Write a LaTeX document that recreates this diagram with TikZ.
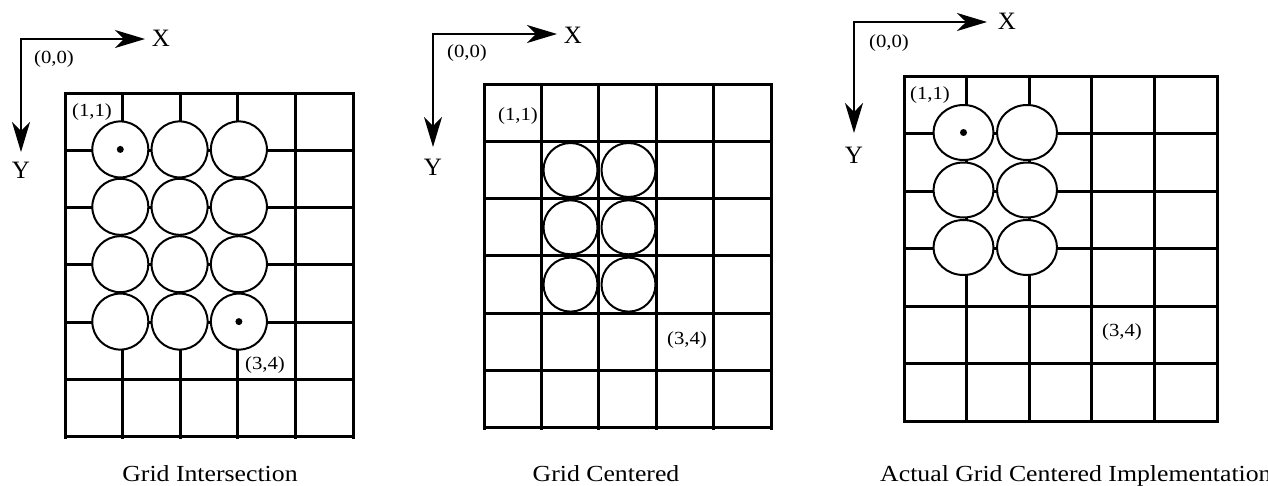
\documentclass[tikz,border=0pt]{standalone}
\usepackage{fontspec}
\setmainfont{Liberation Serif}
\usetikzlibrary{arrows.meta,shapes.geometric}
\tikzset{gridline/.style={line width=3pt,line cap=rect},
         disc/.style={circle,draw,fill=white,line width=2pt,minimum size=56pt,inner sep=0pt},
         oval/.style={ellipse,draw,fill=white,line width=2pt,minimum width=60pt,minimum height=55pt,inner sep=0pt},
         centerdot/.style={circle,fill,inner sep=0pt,minimum size=7pt},
         cornerdot/.style={circle,fill,inner sep=0pt,minimum size=4pt},
         axes/.style={line width=1.6pt,>={Stealth[length=30pt,width=18pt,inset=9pt]},<->},
         axlabel/.style={font=\fontsize{25}{28}\selectfont,inner sep=0pt},
         coordlabel/.style={font=\fontsize{18.5}{21}\selectfont,inner sep=0pt,xscale=1.12,transform shape},
         caption/.style={font=\fontsize{23}{26}\selectfont,inner sep=0pt,xscale=1.12,transform shape}}
\begin{document}
\begin{tikzpicture}[x=1pt,y=-1pt]
\useasboundingbox (0,0) rectangle (1268,485);
% Grid Intersection
\foreach \i in {0,...,5} \draw[gridline] ({65+57.6*\i},93) -- ({65+57.6*\i},437);
\foreach \j in {0,...,6} \draw[gridline] (65,{93+57.3*\j}) -- (353,{93+57.3*\j});
\foreach \i in {1,2,3}
  \foreach \j in {1,...,4}
    \node[disc] (ca\i\j) at ({61+59.3*\i},{92+57.4*\j}) {};
\node[centerdot] (ma) at (ca11) {};
\node[centerdot] (mb) at (ca34) {};
\coordinate (oa) at (21,39);
\coordinate (xa) at (145,39);
\coordinate (ya) at (21,152);
\draw[axes] (xa) -- (oa) -- (ya);
\node[axlabel] (xla) at (161,38.5) {X};
\node[axlabel] (yla) at (21,170.5) {Y};
\node[coordlabel] (za) at (54,59) {(0,0)};
\node[coordlabel] (pa) at (92,112) {(1,1)};
\node[coordlabel] (qa) at (265,365) {(3,4)};
\node[caption,anchor=base] (capa) at (210,481) {Grid Intersection};
% Grid Centered
\foreach \i in {0,...,5} \draw[gridline] ({484+57.4*\i},84) -- ({484+57.4*\i},428);
\foreach \j in {0,...,6} \draw[gridline] (484,{84+57.3*\j}) -- (771,{84+57.3*\j});
\foreach \i in {0,1}
  \foreach \j in {0,1,2}
    \node[disc,fill=none,minimum size=54pt] (cb\i\j) at ({570.5+58*\i},{170+57.3*\j}) {};
\node[cornerdot] (mc) at (541.4,141.3) {};
\node[cornerdot] (md) at (656.2,313.2) {};
\coordinate (ob) at (433,34);
\coordinate (xb) at (557,34);
\coordinate (yb) at (433,147);
\draw[axes] (xb) -- (ob) -- (yb);
\node[axlabel] (xlb) at (573,35) {X};
\node[axlabel] (ylb) at (433,167.5) {Y};
\node[coordlabel] (zb) at (467,53) {(0,0)};
\node[coordlabel] (pb) at (518,116) {(1,1)};
\node[coordlabel] (qb) at (687,340) {(3,4)};
\node[caption,anchor=base] (capb) at (606,481) {Grid Centered};
% Actual Grid Centered Implementation
\foreach \i in {0,...,5} \draw[gridline] ({904+62.6*\i},76) -- ({904+62.6*\i},421);
\foreach \j in {0,...,6} \draw[gridline] (904,{76+57.5*\j}) -- (1217,{76+57.5*\j});
\foreach \i in {0,1}
  \foreach \j in {0,1,2}
    \node[oval] (cc\i\j) at ({963.5+63.5*\i},{132.5+57.5*\j}) {};
\node[centerdot] (me) at (cc00) {};
\node[cornerdot] (mf) at (1091.8,306) {};
\coordinate (oc) at (854,22);
\coordinate (xc) at (987,22);
\coordinate (yc) at (854,133);
\draw[axes] (xc) -- (oc) -- (yc);
\node[axlabel] (xlc) at (1007,21) {X};
\node[axlabel] (ylc) at (854,155) {Y};
\node[coordlabel] (zc) at (889,43) {(0,0)};
\node[coordlabel] (pc) at (930,95) {(1,1)};
\node[coordlabel] (qc) at (1122,332) {(3,4)};
\node[caption,anchor=base west] (capc) at (880,481) {Actual Grid Centered Implementation};
\end{tikzpicture}
\end{document}
